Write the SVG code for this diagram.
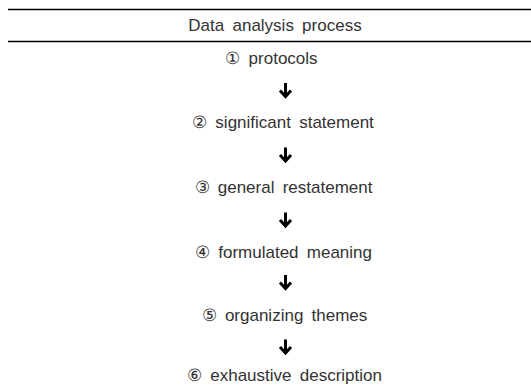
<svg xmlns="http://www.w3.org/2000/svg" width="531" height="387" viewBox="0 0 531 387">
<style>
.t{font-family:"Liberation Sans",Arial,sans-serif;font-size:17px;fill:#333;text-anchor:middle;word-spacing:3.5px}
.rule{stroke:#000;stroke-width:1.6}
.arr{fill:none;stroke:#000;stroke-width:3;stroke-linecap:butt;stroke-linejoin:miter}
</style>
<rect width="531" height="387" fill="#fff"/>
<line class="rule" x1="8" y1="9.5" x2="531" y2="9.5"/>
<line class="rule" x1="8" y1="41.5" x2="531" y2="41.5"/>
<text class="t" x="275" y="31">Data analysis process</text>
<g id="n1"><text class="t" x="271.5" y="63.5">① protocols</text></g>
<g id="n2"><text class="t" x="283" y="128">② significant statement</text></g>
<g id="n3"><text class="t" x="283.5" y="193">③ general restatement</text></g>
<g id="n4"><text class="t" x="283.5" y="257.5">④ formulated meaning</text></g>
<g id="n5"><text class="t" x="284.5" y="321">⑤ organizing themes</text></g>
<g id="n6"><text class="t" x="284.5" y="381">⑥ exhaustive description</text></g>
<g id="connectors">
<defs><path id="a" class="arr" d="M0,0 V13 M-5.5,7.5 L0,13.5 L5.5,7.5"/></defs>
<use href="#a" x="285.5" y="83"/>
<use href="#a" x="285.5" y="147.5"/>
<use href="#a" x="285.5" y="212.5"/>
<use href="#a" x="285.5" y="275"/>
<use href="#a" x="285.5" y="339.5"/>
</g>
</svg>
